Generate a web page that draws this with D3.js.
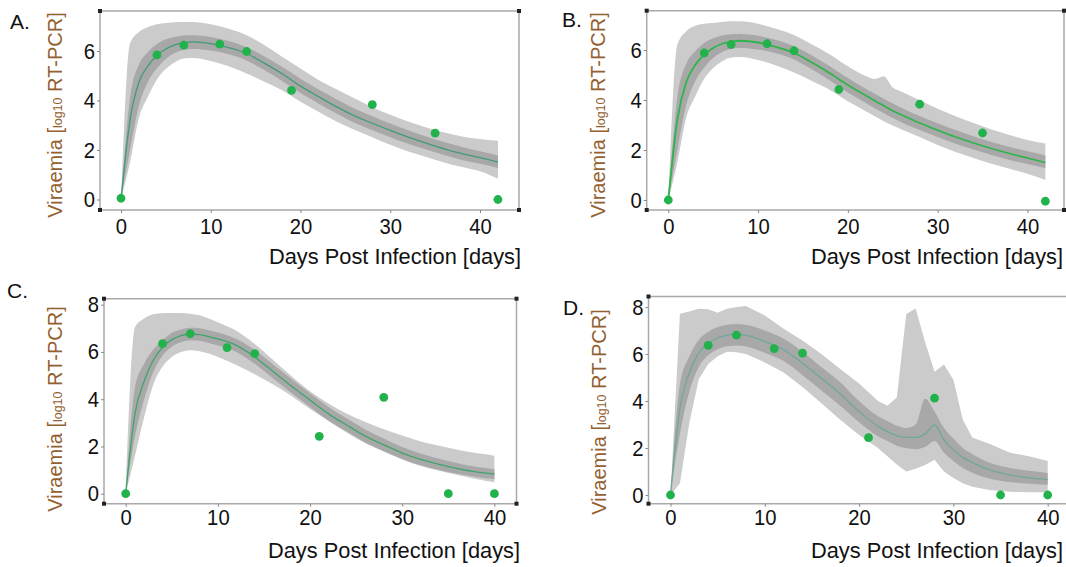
<!DOCTYPE html>
<html>
<head>
<meta charset="utf-8">
<script src="https://cdn.jsdelivr.net/npm/d3@7"></script>
<style>
  * { margin: 0; padding: 0; }
  body { background: #fff; }
  svg { display: block; font-family: "Liberation Sans", Arial, sans-serif; }
</style>
</head>
<body>
<svg id="chart" width="1066" height="567"></svg>
<script>
// --- data (days post infection, log10 RT-PCR) ---
var xTickValues = [0, 10, 20, 30, 40];
var yTicksAB = [0, 2, 4, 6];
var yTicksCD = [0, 2, 4, 6, 8];

var obsDaysAB = [0, 4, 7, 11, 14, 19, 28, 35, 42];
var obsA = [0.05, 5.84, 6.24, 6.28, 5.98, 4.41, 3.83, 2.68, 0];
var obsB = [0, 5.88, 6.22, 6.25, 5.97, 4.42, 3.83, 2.68, -0.05];
var obsDaysCD = [0, 4, 7, 11, 14, 21, 28, 35, 40];
var obsC = [0, 6.35, 6.77, 6.18, 5.93, 2.43, 4.08, 0, 0];
var obsD = [0, 6.37, 6.8, 6.23, 6.04, 2.44, 4.12, 0, 0];

// panel A
var daysA = [0, 1, 2, 3, 4, 5, 6, 7, 8, 10, 12, 14, 16, 18, 20, 22, 24, 26, 28, 30, 32, 34, 36, 38, 40, 42];
var medA = [0, 3.2, 4.75, 5.4, 5.82, 6.08, 6.25, 6.33, 6.37, 6.3, 6.14, 5.9, 5.5, 5.07, 4.58, 4.16, 3.75, 3.38, 3.08, 2.79, 2.52, 2.28, 2.05, 1.85, 1.69, 1.51];
var innerHiA = [0, 4.1, 5.45, 5.95, 6.28, 6.47, 6.58, 6.63, 6.64, 6.57, 6.4, 6.15, 5.78, 5.35, 4.88, 4.45, 4.05, 3.68, 3.36, 3.07, 2.8, 2.55, 2.32, 2.12, 1.95, 1.78];
var innerLoA = [0, 2.0, 3.8, 4.75, 5.3, 5.68, 5.92, 6.04, 6.08, 6.02, 5.87, 5.62, 5.22, 4.78, 4.3, 3.88, 3.47, 3.1, 2.8, 2.52, 2.25, 2.02, 1.8, 1.6, 1.44, 1.27];
var outerHiA = [0, 6.3, 6.77, 6.97, 7.08, 7.13, 7.16, 7.17, 7.17, 7.08, 6.9, 6.64, 6.23, 5.76, 5.29, 4.83, 4.45, 4.09, 3.73, 3.42, 3.15, 2.91, 2.71, 2.55, 2.44, 2.37];
var outerLoA = [0, 1.5, 3.3, 4.15, 4.85, 5.28, 5.55, 5.7, 5.72, 5.6, 5.38, 5.09, 4.76, 4.4, 3.95, 3.55, 3.15, 2.82, 2.52, 2.21, 1.94, 1.72, 1.5, 1.31, 1.14, 0.84];

// panel B
var daysB = [0, 1, 2, 3, 4, 5, 6, 7, 8, 10, 12, 14, 16, 18, 20, 22, 23, 24, 25, 26, 28, 30, 32, 34, 36, 38, 40, 42];
var medB = [0, 3.2, 4.72, 5.4, 5.82, 6.08, 6.25, 6.33, 6.37, 6.3, 6.12, 5.88, 5.5, 5.07, 4.6, 4.18, 3.97, 3.77, 3.57, 3.4, 3.08, 2.79, 2.52, 2.28, 2.06, 1.86, 1.68, 1.5];
var innerHiB = [0, 4.1, 5.45, 5.95, 6.28, 6.47, 6.58, 6.63, 6.64, 6.57, 6.4, 6.15, 5.78, 5.35, 4.88, 4.45, 4.25, 4.05, 3.86, 3.68, 3.36, 3.07, 2.8, 2.55, 2.32, 2.12, 1.95, 1.78];
var innerLoB = [0, 2.0, 3.8, 4.75, 5.3, 5.68, 5.92, 6.04, 6.08, 6.02, 5.87, 5.62, 5.22, 4.78, 4.3, 3.88, 3.67, 3.47, 3.28, 3.1, 2.8, 2.52, 2.25, 2.02, 1.8, 1.6, 1.44, 1.27];
var outerHiB = [0, 6.2, 6.75, 6.97, 7.05, 7.08, 7.12, 7.15, 7.15, 7.05, 6.85, 6.6, 6.22, 5.82, 5.35, 4.96, 4.84, 4.95, 4.5, 4.33, 3.99, 3.65, 3.35, 3.08, 2.82, 2.6, 2.4, 2.26];
var outerLoB = [0, 1.5, 3.3, 4.15, 4.85, 5.28, 5.55, 5.7, 5.72, 5.6, 5.38, 5.1, 4.76, 4.4, 3.95, 3.55, 3.35, 3.15, 2.98, 2.82, 2.52, 2.2, 1.92, 1.68, 1.45, 1.25, 1.05, 0.8];

// panel C
var daysC = [0, 1, 2, 3, 4, 5, 6, 7, 8, 9, 10, 12, 14, 16, 18, 20, 22, 24, 26, 28, 30, 32, 34, 36, 38, 40];
var medC = [0, 3.38, 4.76, 5.66, 6.2, 6.52, 6.69, 6.76, 6.73, 6.65, 6.55, 6.28, 5.79, 5.17, 4.55, 3.96, 3.38, 2.9, 2.44, 2.07, 1.72, 1.45, 1.24, 1.06, 0.92, 0.83];
var innerHiC = [0, 4.5, 5.5, 6.1, 6.5, 6.8, 6.95, 7.02, 7.0, 6.92, 6.82, 6.55, 6.08, 5.47, 4.85, 4.25, 3.67, 3.18, 2.72, 2.34, 1.98, 1.7, 1.48, 1.29, 1.14, 1.04];
var innerLoC = [0, 2.4, 4.0, 5.15, 5.85, 6.22, 6.42, 6.5, 6.47, 6.38, 6.27, 6.0, 5.5, 4.88, 4.26, 3.67, 3.1, 2.63, 2.17, 1.8, 1.47, 1.2, 1.0, 0.84, 0.71, 0.62];
var outerHiC = [0, 7.05, 7.42, 7.6, 7.64, 7.65, 7.65, 7.62, 7.55, 7.42, 7.26, 6.9, 6.34, 5.66, 4.97, 4.34, 3.82, 3.38, 3.03, 2.73, 2.46, 2.21, 2.03, 1.86, 1.72, 1.61];
var outerLoC = [0, 1.6, 3.24, 4.62, 5.38, 5.79, 6.0, 6.07, 6.03, 5.93, 5.79, 5.45, 5.06, 4.62, 4.14, 3.59, 3.08, 2.58, 2.14, 1.79, 1.45, 1.17, 0.97, 0.79, 0.62, 0.48];

// panel D
var daysD = [0, 1, 2, 3, 4, 5, 6, 7, 8, 10, 12, 14, 16, 18, 20, 22, 23, 24, 25, 26, 27, 28, 29, 30, 31, 32, 34, 36, 38, 40];
var medD = [0, 3.7, 5.2, 6.05, 6.45, 6.68, 6.8, 6.84, 6.8, 6.53, 6.18, 5.61, 4.97, 4.3, 3.55, 2.92, 2.7, 2.53, 2.45, 2.45, 2.6, 2.98, 2.35, 1.92, 1.6, 1.38, 1.05, 0.85, 0.73, 0.65];
var innerHiD = [0, 4.7, 5.9, 6.6, 6.95, 7.15, 7.25, 7.28, 7.25, 7.0, 6.65, 6.1, 5.45, 4.8, 4.0, 3.35, 3.15, 2.95, 2.85, 3.0, 4.1, 3.55, 2.85, 2.4, 2.0, 1.75, 1.35, 1.15, 1.03, 0.94];
var innerLoD = [0, 2.6, 4.4, 5.45, 5.95, 6.2, 6.33, 6.36, 6.32, 6.05, 5.7, 5.1, 4.45, 3.8, 3.1, 2.5, 2.3, 2.1, 2.0, 1.95, 2.05, 2.3, 1.8, 1.45, 1.15, 0.95, 0.68, 0.55, 0.48, 0.44];
var outerHiD = [0, 7.71, 7.81, 7.93, 7.9, 7.76, 7.93, 8.0, 8.04, 7.64, 7.07, 6.57, 6.0, 5.36, 4.75, 4.0, 3.8, 4.15, 7.7, 7.94, 6.5, 5.25, 5.55, 4.9, 3.2, 2.45, 2.15, 1.8, 1.65, 1.45];
var outerLoD = [0, 0.5, 3.07, 4.93, 5.57, 5.9, 6.1, 6.07, 6.0, 5.64, 5.21, 4.6, 3.9, 3.2, 2.55, 2.0, 1.65, 1.3, 1.0, 1.12, 1.28, 1.5, 1.0, 0.72, 0.5, 0.35, 0.2, 0.14, 0.12, 0.12];

// --- layout of the four panels (pixels) ---
var panels = [
  { label: "A.", lx: 10, ly: 29, frame: { l: 100, r: 519, t: 11, b: 210 },
    xr: [121, 480], yd: [0, 6], yr: [199.5, 51], yTicks: yTicksAB, xPad: 5.5,
    days: daysA, med: medA, inHi: innerHiA, inLo: innerLoA, outHi: outerHiA, outLo: outerLoA,
    obsDays: obsDaysAB, obs: obsA, lineColor: "#3f9d72", lineWidth: 1.3, outerCurve: d3.curveMonotoneX,
    ylab: { x: 62, y: 115 }, title: { x: 521, y: 264 }, corners: [1, 1, 1, 1] },
  { label: "B.", lx: 562, ly: 27, frame: { l: 646.7, r: 1064, t: 10.7, b: 210 },
    xr: [668.3, 1027.4], yd: [0, 6], yr: [200, 50], yTicks: yTicksAB, xPad: 5.5,
    days: daysB, med: medB, inHi: innerHiB, inLo: innerLoB, outHi: outerHiB, outLo: outerLoB,
    obsDays: obsDaysAB, obs: obsB, lineColor: "#2fb44c", lineWidth: 1.8, outerCurve: d3.curveMonotoneX,
    ylab: { x: 604.5, y: 115 }, title: { x: 1063, y: 264 }, corners: [1, 1, 1, 1] },
  { label: "C.", lx: 7, ly: 298, frame: { l: 104, r: 516.5, t: 298.7, b: 503.7 },
    xr: [125.7, 494.4], yd: [0, 8], yr: [493.7, 304.7], yTicks: yTicksCD, xPad: 3,
    days: daysC, med: medC, inHi: innerHiC, inLo: innerLoC, outHi: outerHiC, outLo: outerLoC,
    obsDays: obsDaysCD, obs: obsC, lineColor: "#3fa46c", lineWidth: 1.3, outerCurve: d3.curveMonotoneX,
    ylab: { x: 62, y: 409 }, title: { x: 520, y: 558 }, corners: [1, 1, 1, 1] },
  { label: "D.", lx: 563, ly: 315, frame: { l: 648.5, r: 1072, t: 296.5, b: 503.7 },
    xr: [670.5, 1047.7], yd: [0, 8], yr: [495, 307], yTicks: yTicksCD, xPad: 3,
    days: daysD, med: medD, inHi: innerHiD, inLo: innerLoD, outHi: outerHiD, outLo: outerLoD,
    obsDays: obsDaysCD, obs: obsD, lineColor: "#6fa79a", lineWidth: 1.3, outerCurve: d3.curveLinear,
    ylab: { x: 606, y: 412 }, title: { x: 1063, y: 558 }, corners: [1, 0, 0, 1] }
];

var svg = d3.select("#chart");
var FRAME = "#a9a9a9";
var OUTER = "#cbcbcb";
var INNER = "#a8a8a8";
var DOT = "#22b24c";
var YLAB = "#93602f";

// squeeze text horizontally a bit, the source figure is slightly narrow
function squish(sel, f) {
  sel.each(function() {
    var w = this.getComputedTextLength();
    d3.select(this).attr("textLength", w * f).attr("lengthAdjust", "spacingAndGlyphs");
  });
}

panels.forEach(function(p) {
  var x = d3.scaleLinear().domain([0, 40]).range(p.xr);
  var y = d3.scaleLinear().domain(p.yd).range(p.yr);
  var f = p.frame;
  var g = svg.append("g");

  // bands
  var rows = d3.range(p.days.length);
  var outerArea = d3.area()
    .x(function(i) { return x(p.days[i]); })
    .y0(function(i) { return y(p.outLo[i]); })
    .y1(function(i) { return y(p.outHi[i]); })
    .curve(p.outerCurve);
  var innerArea = d3.area()
    .x(function(i) { return x(p.days[i]); })
    .y0(function(i) { return y(p.inLo[i]); })
    .y1(function(i) { return y(p.inHi[i]); })
    .curve(d3.curveMonotoneX);
  var medLine = d3.line()
    .x(function(i) { return x(p.days[i]); })
    .y(function(i) { return y(p.med[i]); })
    .curve(d3.curveMonotoneX);

  g.append("path").attr("d", outerArea(rows)).attr("fill", OUTER);
  g.append("path").attr("d", innerArea(rows)).attr("fill", INNER);
  g.append("path").attr("d", medLine(rows)).attr("fill", "none")
    .attr("stroke", p.lineColor).attr("stroke-width", p.lineWidth);

  // frame
  var fr = g.append("g");
  fr.append("line").attr("x1", f.l).attr("x2", f.r).attr("y1", f.t).attr("y2", f.t);
  fr.append("line").attr("x1", f.l).attr("x2", f.r).attr("y1", f.b).attr("y2", f.b);
  fr.append("line").attr("x1", f.l).attr("x2", f.l).attr("y1", f.t).attr("y2", f.b);
  fr.append("line").attr("x1", f.r).attr("x2", f.r).attr("y1", f.t).attr("y2", f.b);
  fr.selectAll("line").attr("stroke", FRAME).attr("stroke-width", 1.5);

  // corner markers: tl, tr, br, bl
  var cs = [[f.l, f.t], [f.r, f.t], [f.r, f.b], [f.l, f.b]];
  cs.forEach(function(c, i) {
    if (!p.corners[i]) return;
    fr.append("rect").attr("x", c[0] - 2).attr("y", c[1] - 2)
      .attr("width", 4).attr("height", 4).attr("fill", "#222");
  });

  // axes
  var xAxis = g.append("g").attr("transform", "translate(0," + f.b + ")")
    .call(d3.axisBottom(x).tickValues(xTickValues).tickFormat(d3.format("d"))
      .tickSize(3).tickPadding(p.xPad).tickSizeOuter(0));
  var yAxis = g.append("g").attr("transform", "translate(" + f.l + ",0)")
    .call(d3.axisLeft(y).tickValues(p.yTicks).tickFormat(d3.format("d"))
      .tickSize(3).tickPadding(2).tickSizeOuter(0));
  [xAxis, yAxis].forEach(function(a) {
    a.select(".domain").remove();
    a.selectAll(".tick line").attr("stroke", "#888").attr("stroke-width", 1);
    a.selectAll(".tick text").attr("font-size", 22).attr("fill", "#111")
      .attr("font-family", "'Liberation Sans', Arial, sans-serif");
  });
  squish(xAxis.selectAll(".tick text"), 0.92);
  squish(yAxis.selectAll(".tick text"), 0.92);

  // observed points
  g.selectAll(".obs").data(d3.range(p.obs.length)).enter().append("circle")
    .attr("cx", function(i) { return x(p.obsDays[i]); })
    .attr("cy", function(i) { return y(p.obs[i]); })
    .attr("r", 4.4).attr("fill", DOT);

  // panel letter
  g.append("text").attr("x", p.lx).attr("y", p.ly).attr("font-size", 21).attr("fill", "#111").text(p.label);

  // x title
  g.append("text").attr("x", p.title.x).attr("y", p.title.y)
    .attr("text-anchor", "end").attr("font-size", 21.8).attr("fill", "#111")
    .text("Days Post Infection [days]");

  // y title
  var yl = g.append("text")
    .attr("transform", "translate(" + p.ylab.x + "," + p.ylab.y + ") rotate(-90)")
    .attr("text-anchor", "middle").attr("fill", YLAB).attr("font-size", 20);
  yl.append("tspan").text("Viraemia [");
  yl.append("tspan").attr("font-size", 12.5).text("log10");
  yl.append("tspan").text(" RT-PCR]");
});
</script>
</body>
</html>
